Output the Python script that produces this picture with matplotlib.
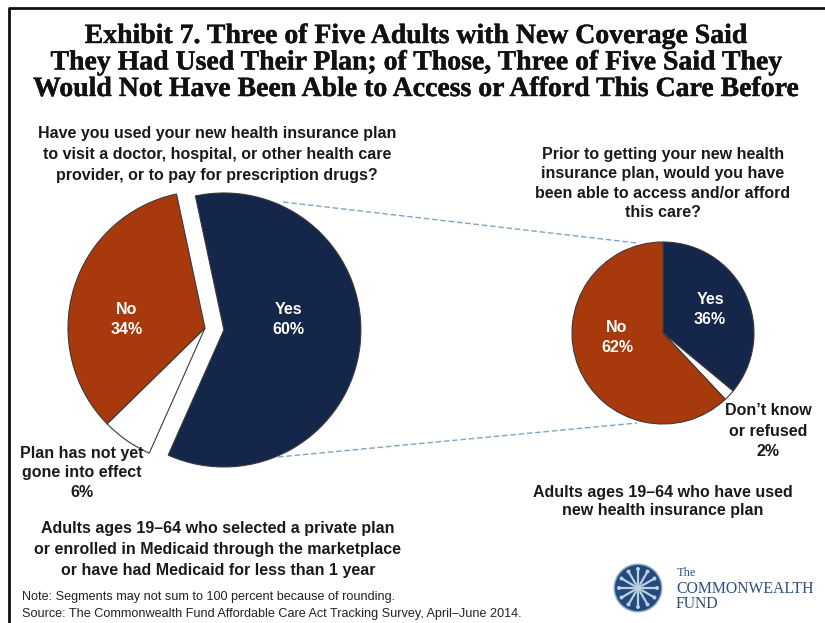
import matplotlib
matplotlib.use("Agg")
import matplotlib.pyplot as plt
import matplotlib.patheffects as pe
import numpy as np
from matplotlib.patches import Circle

W, H = 825, 623

# ---- data ----
left_labels = ["Yes", "Plan has not yet\ngone into effect", "No"]
left_values = [60, 6, 34]
right_labels = ["Yes", "Don\u2019t know\nor refused", "No"]
right_values = [36, 2, 62]

title_lines = [
    "Exhibit 7. Three of Five Adults with New Coverage Said",
    "They Had Used Their Plan; of Those, Three of Five Said They",
    "Would Not Have Been Able to Access or Afford This Care Before",
]
left_question = ("Have you used your new health insurance plan\n"
                 "to visit a doctor, hospital, or other health care\n"
                 "provider, or to pay for prescription drugs?")
right_question = ("Prior to getting your new health\n"
                  "insurance plan, would you have\n"
                  "been able to access and/or afford\n"
                  "this care?")
left_base = ("Adults ages 19\u201364 who selected a private plan\n"
             "or enrolled in Medicaid through the marketplace\n"
             "or have had Medicaid for less than 1 year")
right_base = "Adults ages 19\u201364 who have used\nnew health insurance plan"
note_lines = ["Note: Segments may not sum to 100 percent because of rounding.",
              "Source: The Commonwealth Fund Affordable Care Act Tracking Survey, April\u2013June 2014."]

NAVY = "#14264a"
RUST = "#a8390c"
WHITE = "#ffffff"
colors = [NAVY, WHITE, RUST]

fig = plt.figure(figsize=(W / 100, H / 100), dpi=100)
ax = fig.add_axes([0, 0, 1, 1])

def Y(y):
    return H - y

SANS = "Liberation Sans"
SERIF = "Liberation Serif"

# ---- left pie ----
ax.pie(left_values, colors=colors, startangle=102, counterclock=False,
       center=(205, Y(328)), radius=137, explode=[19, 0, 0],
       wedgeprops=dict(edgecolor="#3a3a3a", linewidth=0.8), frame=True)
# ---- right pie ----
ax.pie(right_values, colors=colors, startangle=90, counterclock=False,
       center=(663, Y(333)), radius=91,
       wedgeprops=dict(edgecolor="#3a3a3a", linewidth=0.8), frame=True)

ax.set_xlim(0, W)
ax.set_ylim(0, H)
ax.set_aspect("auto")
ax.axis("off")

# frame
ax.plot([8.5, 8.5, W + 5], [-5, Y(8), Y(8)], color="#111111", lw=2, solid_capstyle="butt")

# connector dashed lines
dash = dict(color="#7fa4c4", lw=1.0, ls=(0, (4, 2)))
ax.plot([283, 637], [Y(202), Y(243)], **dash)
ax.plot([278, 637], [Y(457), Y(423)], **dash)

# title
for i, ln in enumerate(title_lines):
    ax.text(416, Y(36.5 + i * 26.5), ln, ha="center", va="center", fontsize=20,
            fontweight="bold", family=SERIF, color="#111111",
            path_effects=[pe.withStroke(linewidth=0.3, foreground="#111111")])

tb = dict(fontsize=11.5, fontweight="bold", family=SANS, color="#1a1a1a",
          ha="center", va="center")
ax.text(217, Y(154.5), left_question, linespacing=1.49, **tb)
ax.text(663, Y(183.5), right_question, linespacing=1.36, **tb)
ax.text(218, Y(549.5), left_base, linespacing=1.49, **tb)
ax.text(663, Y(501.5), right_base, linespacing=1.33, **tb)

# slice labels
wl = dict(fontsize=11.5, fontweight="bold", family=SANS, color="white",
          ha="center", va="center", linespacing=1.46)
ax.text(288, Y(319.5), f"{left_labels[0]}\n{left_values[0]}%", **wl)
ax.text(127, Y(319.5), f"{left_labels[2]}\n{left_values[2]}%", **wl)
ax.text(82, Y(473), f"{left_labels[1]}\n{left_values[1]}%", linespacing=1.4, **tb)
ax.text(710, Y(309.5), f"{right_labels[0]}\n{right_values[0]}%", **wl)
ax.text(617, Y(337.5), f"{right_labels[2]}\n{right_values[2]}%", **wl)
ax.text(768, Y(431), f"{right_labels[1]}\n{right_values[1]}%", linespacing=1.42, **tb)

# notes
for i, ln in enumerate(note_lines):
    ax.text(22, Y(597 + i * 17), ln, ha="left", va="center", fontsize=9.1,
            family=SANS, color="#222222")

# logo
cx, cy, r = 638, Y(588), 23
ax.add_patch(Circle((cx, cy), r + 1.5, facecolor="#8fa9c8", edgecolor="none"))
ax.add_patch(Circle((cx, cy), r, facecolor="#234a7a", edgecolor="none"))
for a in np.arange(0, 360, 30):
    t = np.radians(a)
    ax.plot([cx + 5 * np.cos(t), cx + 19 * np.cos(t)], [cy + 5 * np.sin(t), cy + 19 * np.sin(t)],
            color="#bcd0e6", lw=1.6)
    ax.add_patch(Circle((cx + 19 * np.cos(t), cy + 19 * np.sin(t)), 2, facecolor="#bcd0e6", edgecolor="none"))
ax.add_patch(Circle((cx, cy), 4, facecolor="#bcd0e6", edgecolor="none"))
ax.text(677, Y(573), "The", family=SERIF, fontsize=9, color="#2c4f80", ha="left", va="center")
ax.text(676, Y(589), "COMMONWEALTH", family=SERIF, fontsize=11.3, color="#2c4f80", ha="left", va="center")
ax.text(676, Y(604), "FUND", family=SERIF, fontsize=11.3, color="#2c4f80", ha="left", va="center")

fig.savefig("out.png", dpi=100)
